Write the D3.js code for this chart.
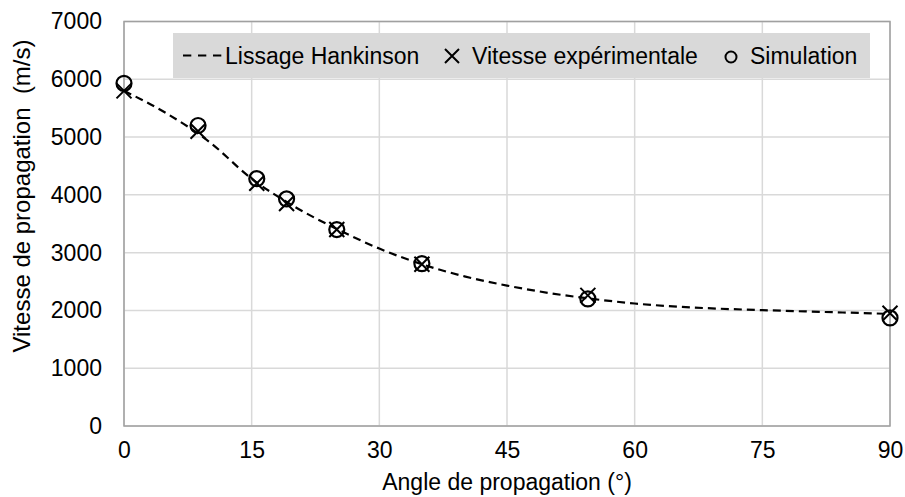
<!DOCTYPE html>
<html>
<head>
<meta charset="utf-8">
<script src="https://cdn.jsdelivr.net/npm/d3@7"></script>
<style>
  html, body { margin: 0; padding: 0; background: #fff; }
  svg { display: block; font-family: "Liberation Sans", Arial, sans-serif; }
</style>
</head>
<body>
<svg id="chart" width="905" height="497"></svg>
<script>
// ---- Data ----
const pointAngles   = [0, 8.7, 15.6, 19.1, 25.0, 35.0, 54.5, 90];
const experimental  = [5800, 5100, 4200, 3850, 3400, 2800, 2260, 1950];
const simulation    = [5930, 5200, 4280, 3930, 3400, 2810, 2200, 1870];
const fitAngles     = [0, 5, 10, 15, 20, 25, 30, 35, 40, 45, 50, 55, 60, 65, 70, 75, 80, 85, 90];
const fitValues     = [5800, 5410, 4920, 4280, 3800, 3410, 3070, 2800, 2590, 2430, 2300, 2200, 2120, 2065, 2030, 2005, 1983, 1962, 1940];
const xTicks = [0, 15, 30, 45, 60, 75, 90];
const yTicks = [0, 1000, 2000, 3000, 4000, 5000, 6000, 7000];
const legendLabels = ["Lissage Hankinson", "Vitesse expérimentale", "Simulation"];

(function () {
const FS = 23;
const svg = d3.select("#chart");
const pLeft = 124, pRight = 890, pTop = 21.5, pBottom = 426;
const x = d3.scaleLinear().domain([0, 90]).range([pLeft, pRight]);
const y = d3.scaleLinear().domain([0, 7000]).range([pBottom, pTop]);

// Gridlines
svg.append("g").selectAll("line").data(yTicks).join("line")
  .attr("x1", pLeft).attr("x2", pRight)
  .attr("y1", d => y(d)).attr("y2", d => y(d))
  .attr("stroke", "#d9d9d9").attr("stroke-width", 1.5);
svg.append("g").selectAll("line").data(xTicks).join("line")
  .attr("y1", pTop).attr("y2", pBottom)
  .attr("x1", d => x(d)).attr("x2", d => x(d))
  .attr("stroke", "#d9d9d9").attr("stroke-width", 1.5);

// Plot border
svg.append("rect").attr("x", pLeft).attr("y", pTop)
  .attr("width", pRight - pLeft).attr("height", pBottom - pTop)
  .attr("fill", "none").attr("stroke", "#a0a0a0").attr("stroke-width", 1.5);

// Axes (labels only)
const xAxis = d3.axisBottom(x).tickValues(xTicks).tickSize(0).tickPadding(16).tickFormat(d3.format("d"));
const gx = svg.append("g").attr("transform", `translate(0,${pBottom})`).call(xAxis);
gx.attr("font-size", FS).attr("font-family", "Liberation Sans, Arial, sans-serif");
gx.select(".domain").remove();
gx.selectAll("text").attr("fill", "#000");

const yAxis = d3.axisLeft(y).tickValues(yTicks).tickSize(0).tickPadding(22).tickFormat(d3.format("d"));
const gy = svg.append("g").attr("transform", `translate(${pLeft},0)`).call(yAxis);
gy.attr("font-size", FS).attr("font-family", "Liberation Sans, Arial, sans-serif");
gy.select(".domain").remove();
gy.selectAll("text").attr("fill", "#000");

// Axis titles
svg.append("text").attr("x", (pLeft + pRight) / 2).attr("y", 490)
  .attr("text-anchor", "middle").attr("font-size", FS).attr("fill", "#000")
  .text("Angle de propagation (°)");
svg.append("text")
  .attr("transform", `translate(30,196) rotate(-90)`)
  .attr("text-anchor", "middle").attr("font-size", 24).attr("fill", "#000")
  .attr("xml:space", "preserve").style("white-space", "pre")
  .text("Vitesse de propagation  (m/s)");

// Fit line
const line = d3.line().x((d, i) => x(fitAngles[i])).y(d => y(d)).curve(d3.curveMonotoneX);
svg.append("path").datum(fitValues).attr("d", line)
  .attr("fill", "none").attr("stroke", "#000").attr("stroke-width", 2.2)
  .attr("stroke-dasharray", "8,5");

// Crosses
const cs = 7.5;
const crossG = svg.append("g");
experimental.forEach((v, i) => {
  const cx = x(pointAngles[i]), cy = y(v);
  crossG.append("path")
    .attr("d", `M${cx - cs},${cy - cs}L${cx + cs},${cy + cs}M${cx - cs},${cy + cs}L${cx + cs},${cy - cs}`)
    .attr("stroke", "#000").attr("stroke-width", 2).attr("fill", "none");
});

// Circles
svg.append("g").selectAll("circle").data(simulation).join("circle")
  .attr("cx", (d, i) => x(pointAngles[i])).attr("cy", d => y(d)).attr("r", 7.5)
  .attr("fill", "none").attr("stroke", "#000").attr("stroke-width", 2.2);

// Legend
const lg = svg.append("g").attr("font-size", FS).attr("fill", "#000");
lg.append("rect").attr("x", 173).attr("y", 33).attr("width", 697).attr("height", 45)
  .attr("fill", "#d9d9d9");
lg.append("line").attr("x1", 183).attr("x2", 222).attr("y1", 55.5).attr("y2", 55.5)
  .attr("stroke", "#000").attr("stroke-width", 2).attr("stroke-dasharray", "8.3,6.7");
lg.append("text").attr("x", 225).attr("y", 64).text(legendLabels[0]);
const lcx = 452, lcy = 56, ls = 7;
lg.append("path")
  .attr("d", `M${lcx - ls},${lcy - ls}L${lcx + ls},${lcy + ls}M${lcx - ls},${lcy + ls}L${lcx + ls},${lcy - ls}`)
  .attr("stroke", "#000").attr("stroke-width", 2);
lg.append("text").attr("x", 472).attr("y", 64).text(legendLabels[1]);
lg.append("circle").attr("cx", 731).attr("cy", 57).attr("r", 5.5)
  .attr("fill", "none").attr("stroke", "#000").attr("stroke-width", 2);
lg.append("text").attr("x", 750).attr("y", 64).text(legendLabels[2]);
})();
</script>
</body>
</html>
